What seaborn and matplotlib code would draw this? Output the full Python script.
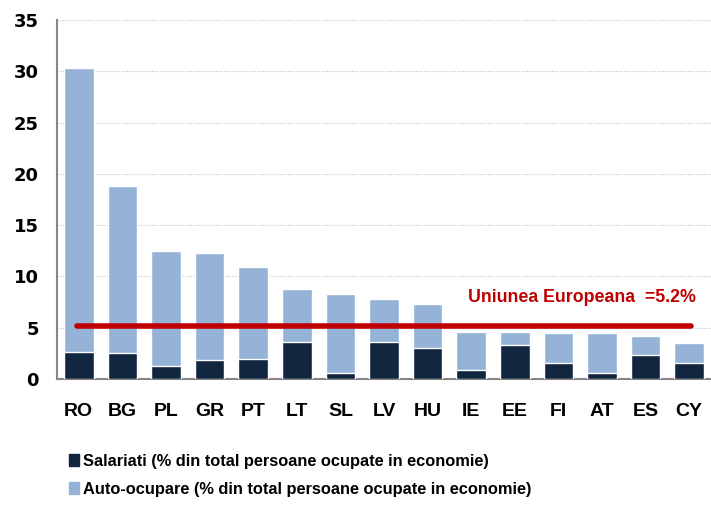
import matplotlib
matplotlib.use("Agg")
import matplotlib.pyplot as plt
import seaborn as sns
import pandas as pd
from matplotlib.patches import Patch

# date
tari = ["RO", "BG", "PL", "GR", "PT", "LT", "SL", "LV", "HU", "IE", "EE", "FI", "AT", "ES", "CY"]
salariati = [2.65, 2.5, 1.27, 1.85, 1.98, 3.63, 0.58, 3.6, 3.05, 0.9, 3.34, 1.52, 0.58, 2.37, 1.52]
total = [30.3, 18.85, 12.5, 12.25, 10.95, 8.73, 8.25, 7.76, 7.27, 4.61, 4.61, 4.48, 4.48, 4.19, 3.47]
media_ue = 5.2

df = pd.DataFrame({"tara": tari, "salariati": salariati, "total": total})

sns.set_style("white")
plt.rcParams["font.family"] = ["Liberation Sans", "DejaVu Sans"]
plt.rcParams["font.weight"] = "bold"
plt.rcParams["text.color"] = "black"
plt.rcParams["xtick.labelcolor"] = "black"
plt.rcParams["ytick.labelcolor"] = "black"

fig = plt.figure(figsize=(7.11, 5.09), dpi=100)
ax = fig.add_axes([57 / 711, 1 - 379 / 509, 1 - 57 / 711, 359 / 509])

dark = "#12263F"
light = "#95B3D7"

sns.barplot(data=df, x="tara", y="total", color=light, width=0.68, saturation=1, ax=ax, zorder=2)
sns.barplot(data=df, x="tara", y="salariati", color=dark, width=0.68, saturation=1, ax=ax, zorder=3)

# linia UE
ax.plot([-0.05, 14.03], [media_ue, media_ue], color="#C00000", lw=4, solid_capstyle="round", zorder=4)
ax.text(14.15, 7.9, "Uniunea Europeana  =5.2%", color="#C00000", fontsize=12.8,
        fontweight="bold", ha="right", va="center", zorder=5)

ax.set_ylim(0, 35)
ax.set_xlim(-0.5, 14.44)
ax.set_yticks(range(0, 36, 5))
ax.yaxis.grid(True, linestyle=(0, (1, 1.5)), color="#C0C0C0", lw=0.8, zorder=0)
ax.set_axisbelow(True)
ax.set_xlabel("")
ax.set_ylabel("")

for s in ["top", "right"]:
    ax.spines[s].set_visible(False)
for s in ["left", "bottom"]:
    ax.spines[s].set_color("#868686")
    ax.spines[s].set_linewidth(1.5)

ax.tick_params(axis="y", length=6, width=1.5, color="#868686", pad=7)
ax.tick_params(axis="x", length=0, labelsize=14, pad=17)
ax.set_xticks([i + 0.5 for i in range(-1, 15)], minor=True)
ax.tick_params(axis="x", which="minor", length=6, width=1.5, color="#868686")
ax.set_yticklabels([str(v) for v in range(0, 36, 5)], fontfamily="DejaVu Sans",
                   fontweight="bold", fontsize=13)
for lab in ax.get_xticklabels():
    lab.set_fontweight("bold")

handles = [Patch(color=dark, label="Salariati (% din total persoane ocupate in economie)"),
           Patch(color=light, label="Auto-ocupare (% din total persoane ocupate in economie)")]
fig.legend(handles=handles, loc="upper left", bbox_to_anchor=(62 / 711, 1 - 447 / 509),
           frameon=False, prop={"size": 11.8, "weight": "bold"}, borderaxespad=0,
           handlelength=0.65, handleheight=0.8, handletextpad=0.25, labelspacing=0.8)

fig.savefig("out.png", dpi=100)
